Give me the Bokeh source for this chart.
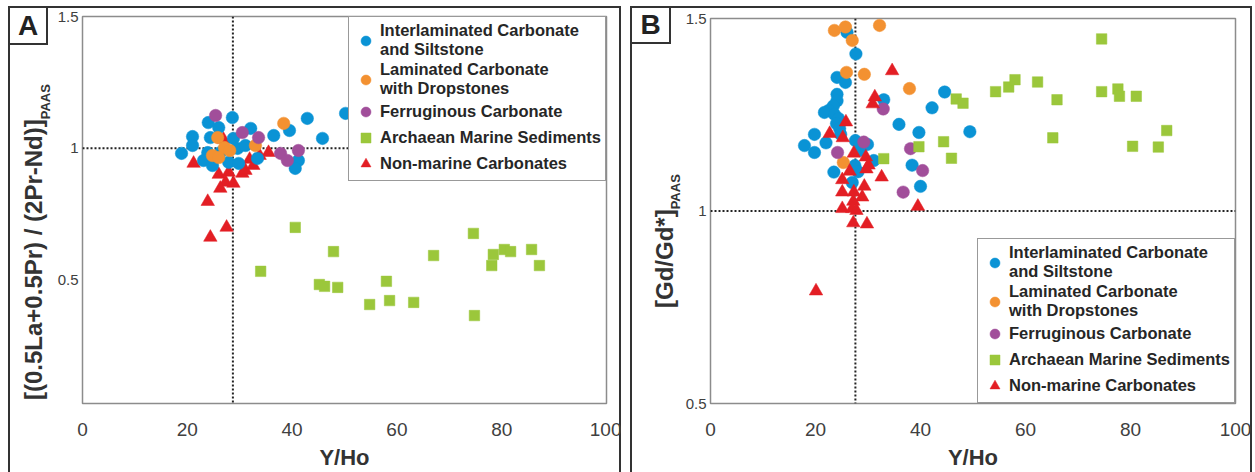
from bokeh.plotting import figure
from bokeh.models import Range1d, FixedTicker, Span, Legend, LegendItem, Div, Spacer
from bokeh.layouts import row, column
from bokeh.embed import file_html
from bokeh.resources import INLINE

# ---------------- data ----------------
series_names = ["Interlaminated Carbonate\nand Siltstone",
                "Laminated Carbonate\nwith Dropstones",
                "Ferruginous Carbonate",
                "Archaean Marine Sediments",
                "Non-marine Carbonates"]

x_ticks = [0, 20, 40, 60, 80, 100]
y_ticks = [0.5, 1, 1.5]
y_tick_labels = ["0.5", "1", "1.5"]
x_title = "Y/Ho"

# Panel A: Y/Ho vs [(0.5La+0.5Pr)/(2Pr-Nd)]PAAS
A_letter = "A"
A_ytitle = "[(0.5La+0.5Pr) / (2Pr-Nd)]"
A_inter_x = [18.9, 21.0, 21.0, 24.0, 26.0, 24.4, 23.9, 23.1, 24.8, 28.6, 28.8, 29.6, 31.1, 32.1, 27.9, 29.8, 33.4, 36.5, 39.5, 42.9, 45.8, 50.2, 41.2, 40.6, 26.3]
A_inter_y = [0.980, 1.044, 1.010, 1.097, 1.078, 1.040, 0.983, 0.953, 0.934, 1.116, 1.037, 0.999, 1.010, 1.075, 0.946, 0.942, 0.961, 1.048, 1.067, 1.113, 1.037, 1.132, 0.953, 0.923, 0.983]
A_lam_x = [25.8, 27.1, 28.1, 24.8, 26.0, 33.0, 38.4]
A_lam_y = [1.040, 1.002, 0.991, 0.972, 0.964, 1.010, 1.094]
A_ferr_x = [25.4, 30.5, 33.6, 37.8, 39.1, 41.2]
A_ferr_y = [1.124, 1.059, 1.040, 0.980, 0.953, 0.991]
A_arch_x = [40.6, 34.0, 45.2, 46.2, 47.9, 48.7, 54.8, 58.0, 58.6, 63.2, 67.0, 74.6, 74.8, 78.1, 78.4, 80.5, 81.7, 85.7, 87.2]
A_arch_y = [0.699, 0.532, 0.482, 0.475, 0.607, 0.471, 0.406, 0.494, 0.421, 0.414, 0.592, 0.676, 0.364, 0.554, 0.596, 0.615, 0.607, 0.615, 0.554]
A_nonmar_x = [21.2, 26.9, 26.0, 27.9, 27.3, 28.8, 26.3, 30.5, 31.1, 31.9, 32.6, 33.8, 35.5, 23.9, 27.5, 24.4]
A_nonmar_y = [0.942, 1.033, 0.900, 0.908, 0.870, 0.866, 0.847, 0.904, 0.915, 0.957, 0.934, 0.972, 0.983, 0.797, 0.699, 0.661]
A_ref_x = 28.7
A_ref_y = 1.0

# Panel B: Y/Ho vs [Gd/Gd*]PAAS
B_letter = "B"
B_ytitle = "[Gd/Gd*]"
B_inter_x = [26.0, 27.7, 24.1, 25.7, 24.1, 24.1, 23.4, 22.5, 21.7, 23.6, 24.4, 24.0, 24.6, 24.8, 33.0, 44.6, 42.2, 35.9, 39.7, 49.4, 19.8, 17.9, 19.8, 22.0, 27.6, 29.9, 31.1, 23.5, 27.5, 28.1, 27.0, 38.4, 40.0, 28.4]
B_inter_y = [1.464, 1.408, 1.347, 1.334, 1.303, 1.286, 1.273, 1.261, 1.256, 1.251, 1.240, 1.227, 1.214, 1.199, 1.289, 1.309, 1.268, 1.225, 1.204, 1.206, 1.199, 1.170, 1.152, 1.177, 1.183, 1.173, 1.131, 1.101, 1.118, 1.102, 1.074, 1.119, 1.064, 1.157]
B_lam_x = [23.6, 25.7, 27.0, 32.2, 25.9, 29.3, 37.9, 25.3]
B_lam_y = [1.469, 1.478, 1.443, 1.482, 1.360, 1.355, 1.318, 1.126]
B_ferr_x = [24.2, 29.2, 32.9, 38.1, 40.4, 36.7]
B_ferr_y = [1.152, 1.179, 1.265, 1.162, 1.105, 1.049]
B_arch_x = [33.0, 39.7, 44.4, 45.9, 46.8, 48.1, 54.3, 56.8, 58.0, 62.3, 66.0, 65.2, 74.5, 74.5, 77.6, 77.9, 81.1, 80.4, 85.3, 86.9]
B_arch_y = [1.136, 1.167, 1.180, 1.137, 1.291, 1.280, 1.310, 1.322, 1.341, 1.335, 1.289, 1.190, 1.447, 1.310, 1.317, 1.298, 1.298, 1.168, 1.166, 1.209]
B_nonmar_x = [34.6, 31.3, 30.9, 25.8, 22.7, 25.2, 27.3, 29.6, 30.1, 26.5, 29.7, 32.6, 25.1, 29.3, 25.1, 27.3, 28.9, 27.2, 25.1, 27.0, 27.8, 39.5, 27.2, 29.8, 20.1]
B_nonmar_y = [1.364, 1.296, 1.278, 1.231, 1.201, 1.190, 1.150, 1.140, 1.119, 1.103, 1.109, 1.088, 1.081, 1.064, 1.049, 1.049, 1.036, 1.025, 1.006, 1.006, 1.001, 1.012, 0.969, 0.966, 0.792]
B_ref_x = 27.6
B_ref_y = 1.0

# ---------------- styles ----------------
COLORS = ["#0a93d5", "#f39131", "#a14e9a", "#9bc73b", "#e31e24"]
MARKERS = ["circle", "circle", "circle", "square", "triangle"]
SIZES = [12.5, 12.5, 12.5, 10.5, 13.5]
FONT = "Liberation Sans"
DARK = "#333333"
PANEL_H = 466


def make_figure(width, frame_left, frame_right, frame_top, frame_bottom, y_range,
                series, ref_x, ref_y, legend_loc, draw_order):
    p = figure(width=width, height=PANEL_H, output_backend="svg", toolbar_location=None,
               x_range=Range1d(0, 100), y_range=Range1d(*y_range),
               min_border_left=frame_left, min_border_right=width - frame_right,
               min_border_top=frame_top, min_border_bottom=PANEL_H - frame_bottom,
               background_fill_color="white", border_fill_color=None, margin=0)
    p.grid.visible = False
    p.outline_line_color = "#8c8c8c"
    p.outline_line_width = 1.5

    xa = p.xaxis[0]
    xa.ticker = FixedTicker(ticks=x_ticks)
    xa.axis_line_color = None
    xa.major_tick_line_color = None
    xa.minor_tick_line_color = None
    xa.major_tick_out = 0
    xa.major_tick_in = 0
    xa.major_label_text_font = FONT
    xa.major_label_text_font_size = "19px"
    xa.major_label_text_color = "#404040"
    xa.major_label_text_line_height = 0.9
    xa.major_label_standoff = 19
    xa.axis_label = x_title
    xa.axis_label_text_font = FONT
    xa.axis_label_text_font_size = "22px"
    xa.axis_label_text_font_style = "bold"
    xa.axis_label_text_color = DARK
    xa.axis_label_text_line_height = 0.9
    xa.axis_label_standoff = 6

    ya = p.yaxis[0]
    ya.ticker = FixedTicker(ticks=y_ticks)
    ya.major_label_overrides = {t: s for t, s in zip(y_ticks, y_tick_labels)}
    ya.axis_line_color = None
    ya.major_tick_line_color = None
    ya.minor_tick_line_color = None
    ya.major_tick_out = 0
    ya.major_tick_in = 0
    ya.major_label_text_font = FONT
    ya.major_label_text_font_size = "15px"
    ya.major_label_text_color = "#404040"
    ya.major_label_standoff = 4

    p.add_layout(Span(location=ref_y, dimension="width", line_color="#222222",
                      line_width=2, line_dash="2 2", level="underlay"))
    p.add_layout(Span(location=ref_x, dimension="height", line_color="#222222",
                      line_width=2, line_dash="2 2", level="underlay"))

    renderers = {}
    for i in draw_order:
        xs, ys = series[i]
        renderers[i] = p.scatter(xs, ys, marker=MARKERS[i], size=SIZES[i],
                                 fill_color=COLORS[i], line_color=COLORS[i], line_width=0.5)

    items = [LegendItem(label=series_names[i], renderers=[renderers[i]]) for i in range(5)]
    legend = Legend(items=items, location=legend_loc, margin=0, padding=4, spacing=1,
                    glyph_width=25, glyph_height=25, label_standoff=2,
                    label_text_font=FONT, label_text_font_size="16.5px",
                    label_text_font_style="bold", label_text_color="#262626",
                    label_text_line_height=1.15,
                    border_line_color=DARK, border_line_width=1.5,
                    background_fill_color="white", background_fill_alpha=1.0)
    p.add_layout(legend)
    return p


def make_strip(width, letter, box_w, box_h, title, base_x, start_y, sub_drop):
    # left strip of a panel: letter box and the rotated y-axis title (real HTML text)
    left = base_x - 21.7
    html = (
        f'<div style="position:relative;width:{width}px;height:{PANEL_H}px;'
        f'font-family:\'{FONT}\',Arial,sans-serif;color:{DARK};">'
        f'<div style="position:absolute;left:0;top:0;width:{box_w}px;height:{box_h}px;'
        f'box-sizing:border-box;border:2px solid {DARK};background:#fff;display:flex;'
        f'align-items:center;justify-content:center;font-weight:bold;font-size:28px;'
        f'line-height:1;color:#222;">{letter}</div>'
        f'<div style="position:absolute;left:{left:.1f}px;top:{start_y}px;'
        f'transform-origin:0 0;transform:rotate(-90deg);white-space:nowrap;'
        f'font-weight:bold;font-size:24px;line-height:normal;">{title}'
        f'<span style="font-size:13px;position:relative;top:{sub_drop}px;">PAAS</span></div>'
        f'</div>'
    )
    return Div(text=html, width=width, height=PANEL_H, margin=0)


# Panel A  (page x 8..621, y 6..)
stripA = make_strip(42, A_letter, 40, 39, A_ytitle, 34, 394, 8)
figA = make_figure(571, 32, 556, 10, 397, (0.03, 1.5),
                   [(A_inter_x, A_inter_y), (A_lam_x, A_lam_y), (A_ferr_x, A_ferr_y),
                    (A_arch_x, A_arch_y), (A_nonmar_x, A_nonmar_y)],
                   A_ref_x, A_ref_y, "top_right", [4, 3, 0, 1, 2])

# Panel B  (page x 630..1252, y 6..)
stripB = make_strip(52, B_letter, 41, 38, B_ytitle, 43, 302, 7)
figB = make_figure(570, 28, 553, 12, 397, (0.5, 1.5),
                   [(B_inter_x, B_inter_y), (B_lam_x, B_lam_y), (B_ferr_x, B_ferr_y),
                    (B_arch_x, B_arch_y), (B_nonmar_x, B_nonmar_y)],
                   B_ref_x, B_ref_y, "bottom_right", [0, 1, 2, 3, 4])

panel_border = {"box-shadow": f"inset 2px 2px 0 0 {DARK}, inset -2px 0 0 0 {DARK}"}
panelA = row(stripA, figA, styles=panel_border)
panelB = row(stripB, figB, styles=panel_border)

layout = column(Spacer(height=6, width=1255),
                row(Spacer(width=8, height=PANEL_H), panelA,
                    Spacer(width=9, height=PANEL_H), panelB))

open("out.html", "w").write(file_html(layout, INLINE))
